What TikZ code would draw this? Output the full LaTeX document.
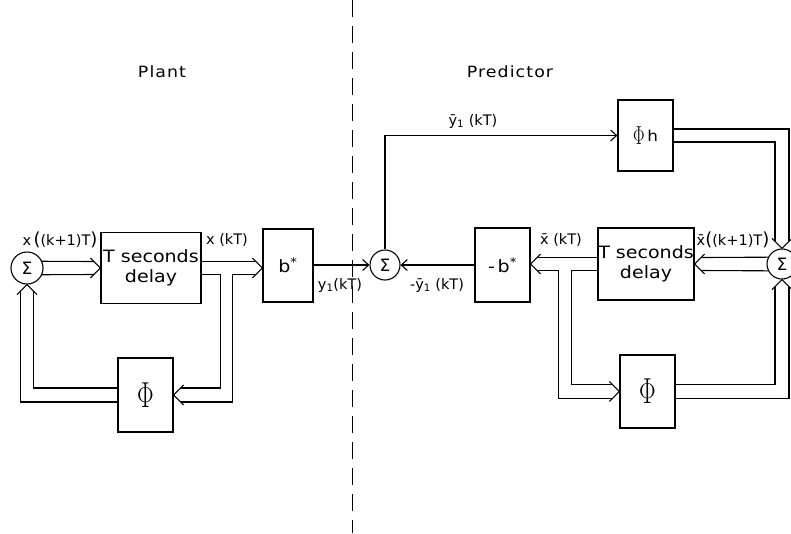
\documentclass[tikz,border=0pt]{standalone}
\usepackage{fontspec}
\setmainfont{DejaVu Sans}[FakeStretch=1.12]
\newfontfamily\lblfont{DejaVu Sans}
\usetikzlibrary{calc, arrows.meta}

\newcommand{\bpl}{{\fontsize{18}{18}\selectfont(}}
\newcommand{\bpr}{{\fontsize{18}{18}\selectfont)}}
\newcommand{\bigphi}[2]{\scalebox{1}[#2]{\fontsize{#1}{#1}\selectfont$\Phi$}}
\tikzset{dchev/.pic={\draw (-10,-10) -- (0,0) -- (-10,10);}}

\begin{document}
\begin{tikzpicture}[x=1pt, y=-1pt, line width=1.1pt,
block/.style={draw, line width=1.3pt, inner sep=0pt, align=center, font=\fontsize{17}{20}\selectfont},
sumc/.style={draw, circle, inner sep=0pt, font=\lblfont\fontsize{17}{17}\selectfont},
lbl/.style={inner sep=0pt, font=\lblfont\fontsize{14.5}{16}\selectfont},
title/.style={inner sep=0pt, font=\fontsize{15.5}{18}\selectfont\addfontfeatures{LetterSpace=7}},
sig/.style={-{Straight Barb[length=6pt, width=11pt]}},
divider/.style={line width=1pt, dash pattern=on 17pt off 9pt}]

\useasboundingbox (0,0) rectangle (791,533);

\node[title] (plant) at (162,72) {Plant};
\node[title] (pred) at (510,72) {Predictor};
\draw[divider] (352,0) -- (352,533);

% plant
\node[sumc, minimum size=32pt] (sum1) at (27,268) {Σ};
\node[block, minimum width=100pt, minimum height=71pt] (delay1) at (151,268) {T seconds\\delay};
\node[block, minimum width=50pt, minimum height=73pt] (bstar) at (288,265.5) {b\textsuperscript{*}};
\node[block, minimum width=55pt, minimum height=74pt] (phi1) at (145.5,395) {\bigphi{24.88}{1.45}};

\node[lbl] (lx1) at (60,240) {x\,\bpl(k+1)T\bpr};
\node[lbl] (lx0) at (227,240) {x (kT)};
\node[lbl] (ly) at (340,285) {y\textsubscript{1}(kT)};

\draw (sum1.24) -- ($(delay1.west)+(-6.5,-6.5)$);
\draw (sum1.-24) -- ($(delay1.west)+(-6.5,6.5)$);
\pic at (delay1.west) {dchev};

\draw ($(delay1.east)+(0,-6.5)$) -- ($(bstar.west |- delay1.east)+(-6.5,-6.5)$);
\pic at (bstar.west |- delay1.east) {dchev};
\draw ($(delay1.east)+(0,6.5)$) -- ++(19,0) |- ($(phi1.east)+(7,-7)$);
\draw ($(bstar.west |- delay1.east)+(-6.5,6.5)$) -- ($(bstar.west |- delay1.east)+(-30,6.5)$) |- ($(phi1.east)+(7,7)$);
\pic[rotate=180] at (phi1.east) {dchev};

\draw ($(phi1.west)+(0,-7)$) -| ($(sum1.south)+(6.5,6.5)$);
\draw ($(phi1.west)+(0,7)$) -| ($(sum1.south)+(-6.5,6.5)$);
\pic[rotate=90] at (sum1.south) {dchev};

% predictor
\node[sumc, minimum size=30pt] (sum2) at (385,265) {Σ};
\node[block, minimum width=55pt, minimum height=71pt] (phih) at (645.5,135.5) {\raisebox{-3pt}{\bigphi{17.28}{1.5}}\,\fontsize{15}{15}\selectfont h};
\node[block, minimum width=55pt, minimum height=74pt] (mbstar) at (502.5,265) {-\,b\textsuperscript{*}};
\node[block, minimum width=96pt, minimum height=72pt] (delay2) at (646,264) {T seconds\\delay};
\node[block, minimum width=55pt, minimum height=73pt] (phi2) at (647.5,391.5) {\bigphi{24.88}{1.45}};
\node[sumc, minimum size=30pt] (sum3) at (782,264) {Σ};

\node[lbl] (lyb) at (473,121) {\=y\textsubscript{1} (kT)};
\node[lbl] (lmyb) at (437,285) {-\=y\textsubscript{1} (kT)};
\node[lbl] (lxb0) at (561,240) {\=x (kT)};
\node[lbl] (lxb1) at (733,240) {\=x\bpl(k+1)T\bpr};

\draw[sig] (bstar.east |- sum2.west) -- (sum2.west);
\draw[sig] (sum2.north) |- (phih.west);

\draw ($(phih.east)+(0,-6.5)$) -| ($(sum3.north)+(7,-7)$);
\draw ($(phih.east)+(0,6.5)$) -| ($(sum3.north)+(-7,-7)$);
\pic[rotate=-90] at (sum3.north) {dchev};

\draw (sum3.154) -- ($(delay2.east)+(6.5,-6.5)$);
\draw (sum3.206) -- ($(delay2.east)+(6.5,6.5)$);
\pic[rotate=180] at (delay2.east) {dchev};

\draw ($(delay2.west)+(0,-6.5)$) -- ($(mbstar.east |- delay2.west)+(6.5,-6.5)$);
\pic[rotate=180] at (mbstar.east |- delay2.west) {dchev};
\draw ($(delay2.west)+(0,6.5)$) -- ++(-26,0) |- ($(phi2.west)+(-7,-7)$);
\draw ($(mbstar.east |- delay2.west)+(6.5,6.5)$) -- ($(mbstar.east |- delay2.west)+(28,6.5)$) |- ($(phi2.west)+(-7,7)$);
\pic at (phi2.west) {dchev};

\draw ($(phi2.east)+(0,-7)$) -| ($(sum3.south)+(-7,7)$);
\draw ($(phi2.east)+(0,7)$) -| ($(sum3.south)+(7,7)$);
\pic[rotate=90] at (sum3.south) {dchev};

\draw[sig] (mbstar.west |- sum2.east) -- (sum2.east);

\end{tikzpicture}
\end{document}
